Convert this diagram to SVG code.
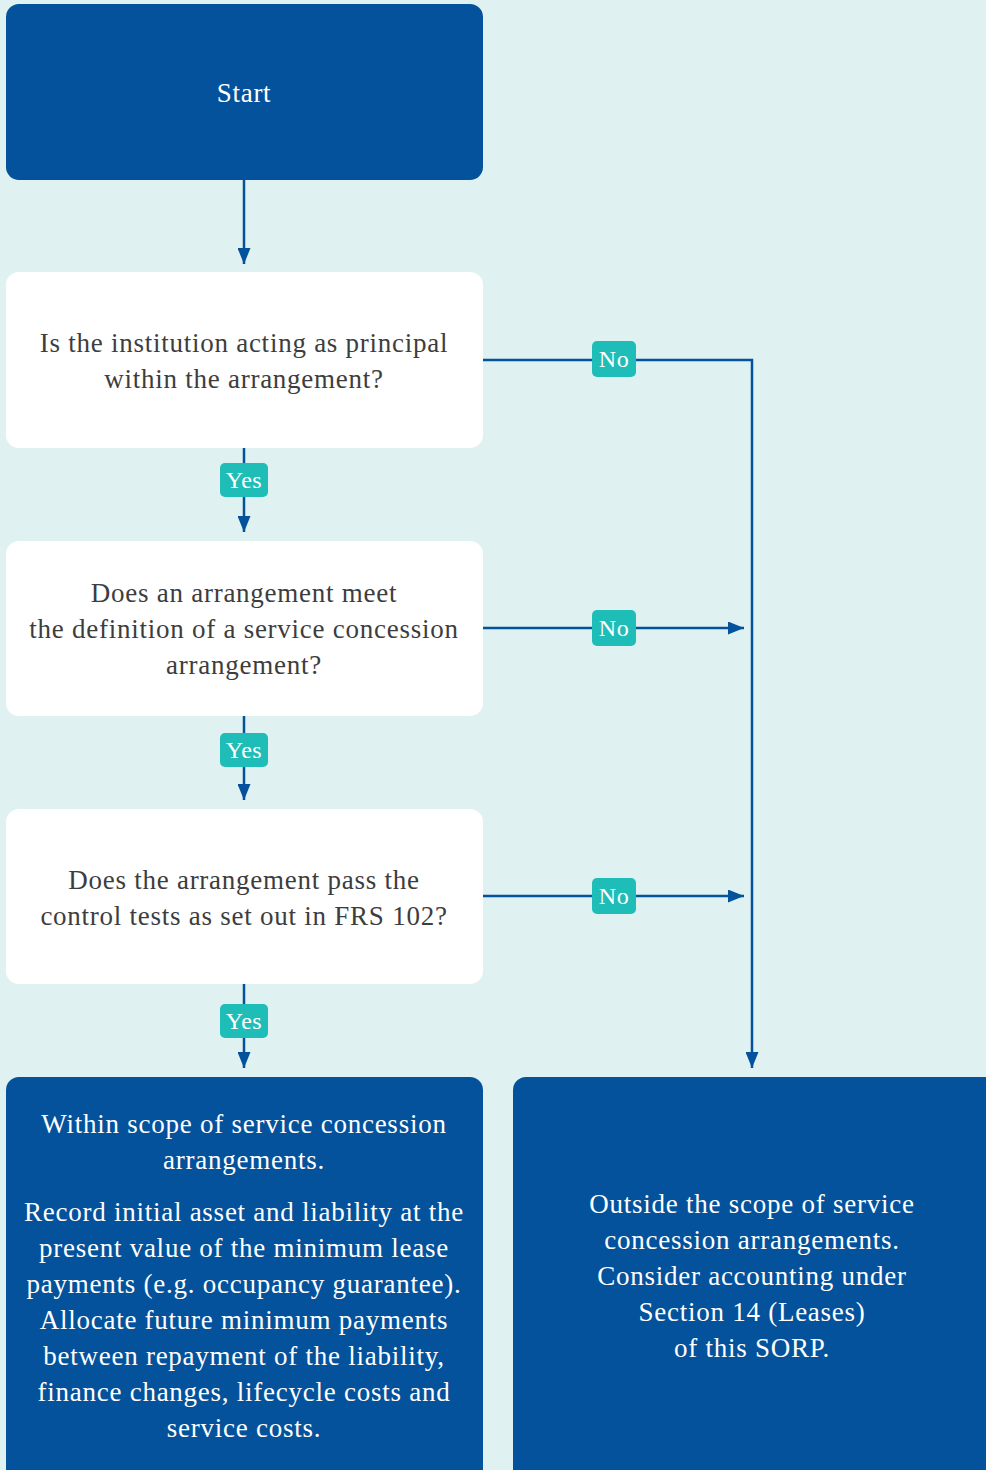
<svg xmlns="http://www.w3.org/2000/svg" width="986" height="1470" viewBox="0 0 986 1470">
<style>
.dark{fill:#03529b}
.light{fill:#ffffff}
.t{font-family:"Liberation Serif","DejaVu Serif",serif;font-size:27px;letter-spacing:0.75px;text-anchor:middle}
.tw{fill:#ffffff}
.tg{fill:#3d3d3d}
.lab{fill:#1fbdb7}
.lt{font-family:"Liberation Serif","DejaVu Serif",serif;font-size:24px;letter-spacing:0.5px;fill:#ffffff;text-anchor:middle}
.c{fill:none;stroke:#03529b;stroke-width:2.5}
</style>
<defs>
<marker id="a" viewBox="0 0 16 13" refX="16" refY="6.5" markerWidth="16" markerHeight="13" markerUnits="userSpaceOnUse" orient="auto">
<path d="M0,0 L16,6.5 L0,13 z" fill="#03529b"/>
</marker>
</defs>
<rect width="986" height="1470" fill="#dff1f1"/>
<g id="connectors">
<path class="c" d="M244,180 V264" marker-end="url(#a)"/>
<path class="c" d="M244,448 V532" marker-end="url(#a)"/>
<path class="c" d="M244,716 V800" marker-end="url(#a)"/>
<path class="c" d="M244,984 V1068" marker-end="url(#a)"/>
<path class="c" d="M483,360 H752 V1068" marker-end="url(#a)"/>
<path class="c" d="M483,628 H744" marker-end="url(#a)"/>
<path class="c" d="M483,896 H744" marker-end="url(#a)"/>
<rect class="lab" x="220" y="463" width="48" height="34" rx="5"/>
<text class="lt" x="244" y="488">Yes</text>
<rect class="lab" x="220" y="733" width="48" height="34" rx="5"/>
<text class="lt" x="244" y="758">Yes</text>
<rect class="lab" x="220" y="1004" width="48" height="34" rx="5"/>
<text class="lt" x="244" y="1029">Yes</text>
<rect class="lab" x="592" y="341" width="44" height="36" rx="5"/>
<text class="lt" x="614" y="367">No</text>
<rect class="lab" x="592" y="610" width="44" height="36" rx="5"/>
<text class="lt" x="614" y="636">No</text>
<rect class="lab" x="592" y="878" width="44" height="36" rx="5"/>
<text class="lt" x="614" y="904">No</text>
</g>
<g id="start">
<rect class="dark" x="6" y="4" width="477" height="176" rx="13"/>
<text class="t tw" x="244" y="102">Start</text>
</g>
<g id="q1">
<rect class="light" x="6" y="272" width="477" height="176" rx="13"/>
<text class="t tg" x="244" y="352">Is the institution acting as principal</text>
<text class="t tg" x="244" y="388">within the arrangement?</text>
</g>
<g id="q2">
<rect class="light" x="6" y="541" width="477" height="175" rx="13"/>
<text class="t tg" x="244" y="602">Does an arrangement meet</text>
<text class="t tg" x="244" y="638">the definition of a service concession</text>
<text class="t tg" x="244" y="674">arrangement?</text>
</g>
<g id="q3">
<rect class="light" x="6" y="809" width="477" height="175" rx="13"/>
<text class="t tg" x="244" y="889">Does the arrangement pass the</text>
<text class="t tg" x="244" y="925">control tests as set out in FRS 102?</text>
</g>
<g id="within">
<rect class="dark" x="6" y="1077" width="477" height="410" rx="13"/>
<text class="t tw" x="244" y="1133">Within scope of service concession</text>
<text class="t tw" x="244" y="1169">arrangements.</text>
<text class="t tw" x="244" y="1221">Record initial asset and liability at the</text>
<text class="t tw" x="244" y="1257">present value of the minimum lease</text>
<text class="t tw" x="244" y="1293">payments (e.g. occupancy guarantee).</text>
<text class="t tw" x="244" y="1329">Allocate future minimum payments</text>
<text class="t tw" x="244" y="1365">between repayment of the liability,</text>
<text class="t tw" x="244" y="1401">finance changes, lifecycle costs and</text>
<text class="t tw" x="244" y="1437">service costs.</text>
</g>
<g id="outside">
<rect class="dark" x="513" y="1077" width="490" height="410" rx="13"/>
<text class="t tw" x="752" y="1213">Outside the scope of service</text>
<text class="t tw" x="752" y="1249">concession arrangements.</text>
<text class="t tw" x="752" y="1285">Consider accounting under</text>
<text class="t tw" x="752" y="1321">Section 14 (Leases)</text>
<text class="t tw" x="752" y="1357">of this SORP.</text>
</g>
</svg>
